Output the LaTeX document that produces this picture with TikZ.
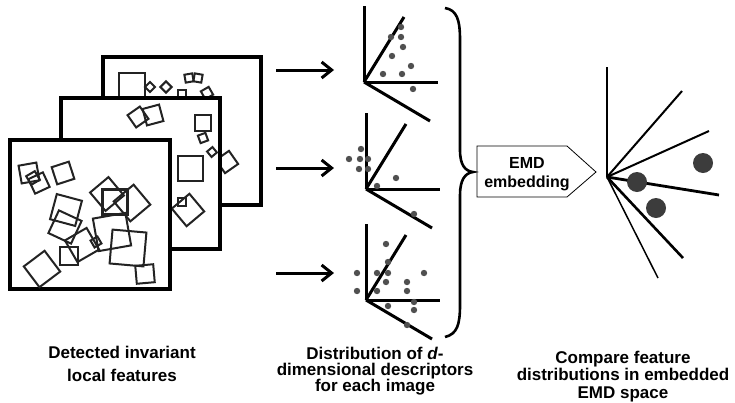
\documentclass[tikz,border=0pt]{standalone}
\usepackage{fontspec}
\setmainfont{Liberation Sans}
\usetikzlibrary{arrows.meta, positioning}
\definecolor{myink}{RGB}{35,35,35}
\definecolor{mydot}{RGB}{80,80,80}
\definecolor{mybig}{RGB}{60,60,60}
\tikzset{
  frame/.style={draw=black, fill=white, line width=4pt},
  feat/.style={draw=myink, line width=2pt},
  thickfeat/.style={draw=myink, line width=2.8pt},
  axis/.style={draw=black, line width=3pt},
  arrow/.style={-{Straight Barb[length=10pt, width=16pt]}, line width=3pt, color=black},
  brace/.style={draw=black, line width=2.6pt},
  emdbox/.style={draw=black, line width=0.8pt},
  dot/.style={fill=mydot},
  bigdot/.style={fill=mybig},
  captxt/.style={align=center, inner sep=0pt, anchor=north,
    font=\fontsize{17}{17.5}\selectfont\bfseries}
}
\begin{document}
\begin{tikzpicture}[x=1pt, y=-1pt]
  \useasboundingbox (0,0) rectangle (735,402);

  % Back image
  \draw[frame] (103,57) rectangle (261,205);
  \foreach \cx/\cy/\s/\r in {132/86/26/0, 150/87/7/45, 166/87/8/45, 189/78/8/10,
      198/78/8/-10, 182/94/8/0, 207/93/9/30, 227/162/16/35} {
    \draw[feat, rotate around={\r:(\cx,\cy)}] (\cx-\s/2,\cy-\s/2) rectangle (\cx+\s/2,\cy+\s/2);
  }

  % Middle image
  \draw[frame] (61,98) rectangle (220,249);
  \foreach \cx/\cy/\s/\r in {138/117/15/35, 153/115/17/15, 203/123/16/0, 203/138/8/20,
      212/152/7/40, 190/168/25/0, 188/210/23/40, 182/202/8/0} {
    \draw[feat, rotate around={\r:(\cx,\cy)}] (\cx-\s/2,\cy-\s/2) rectangle (\cx+\s/2,\cy+\s/2);
  }

  % Front image
  \draw[frame] (10,140) rectangle (170,289);
  \foreach \cx/\cy/\s/\r in {29/173/18/10, 33/178/10/30, 39/183/16/25, 63/173/18/18,
      107/194/24/40, 132/203/26/40, 66/210/26/-15, 65/227/25/-25, 82/245/25/30,
      96/242/8/30, 112/232/33/10, 128/248/34/-5, 42/269/26/37, 145/274/18/5} {
    \draw[feat, rotate around={\r:(\cx,\cy)}] (\cx-\s/2,\cy-\s/2) rectangle (\cx+\s/2,\cy+\s/2);
  }
  \draw[thickfeat] (102.5,189.5) rectangle (127.5,214.5);
  \draw[thickfeat] (60,247) rectangle (78,265);

  % Arrows to descriptors
  \foreach \i/\y in {1/70, 2/168, 3/273} {
    \coordinate (from\i) at (276,\y);
    \coordinate (to\i) at (334,\y);
    \draw[arrow] (from\i) -- (to\i);
  }

  % Descriptor axes
  \foreach \i/\ox/\oy in {1/364/82, 2/366/189, 3/366/300} {
    \coordinate (o\i) at (\ox,\oy);
    \draw[axis] (o\i) -- ++(0,-76);
    \draw[axis] (o\i) -- ++(74,0);
    \draw[axis] (o\i) -- ++(40,-65);
    \draw[axis] (o\i) -- ++(66,39);
  }

  % Descriptor points
  \foreach \px/\py in {401/27, 391/37, 401/37, 403/47, 392/56, 411/66, 383/74, 402/74, 413/89,
      361/149, 349/159, 360/159, 368/159, 359/169, 368/169, 396/178, 377/186, 414/214,
      386/244, 388/262, 357/273, 377/273, 388/273, 424/273, 386/282, 407/282,
      357/291, 377/291, 407/291, 414/302, 414/310, 388/306, 407/325} {
    \fill[dot] (\px,\py) circle (3.2);
  }

  % Brace
  \draw[brace] (445,8) .. controls (457,10) and (460,20) .. (460,40) -- (460,150)
    .. controls (460,165) and (465,171) .. (473,172)
    .. controls (465,173) and (460,180) .. (460,195) -- (460,305)
    .. controls (460,325) and (457,334) .. (445,337);

  % EMD embedding box
  \draw[emdbox] (477,146) -- (567,146) -- (596,172) -- (567,197) -- (477,197) -- cycle;
  \node[captxt, font=\fontsize{16}{19}\selectfont\bfseries] (emd) at (527,157.5) {EMD\\embedding};

  % Embedded space
  \coordinate (eo) at (607,177);
  \foreach \ex/\ey/\w in {607/67/2, 682/91/2, 709/131/2, 719/195/2.8, 683/258/2.6, 658/278/1.5} {
    \draw[line width=\w pt] (eo) -- (\ex,\ey);
  }
  \fill[bigdot] (637,182) circle (10);
  \fill[bigdot] (703,163) circle (10);
  \fill[bigdot] (656,208) circle (10);

  % Captions
  \node[captxt, font=\fontsize{17}{23}\selectfont\bfseries] (features) at (122,345.5) {Detected invariant\\local features};
  \node[captxt, font=\fontsize{17}{16.3}\selectfont\bfseries] (distrib) at (375,346.5) {Distribution of \textit{d}-\\dimensional descriptors\\for each image};
  \node[captxt] (compare) at (623,350.5) {Compare feature\\distributions in embedded\\EMD space};
\end{tikzpicture}
\end{document}
